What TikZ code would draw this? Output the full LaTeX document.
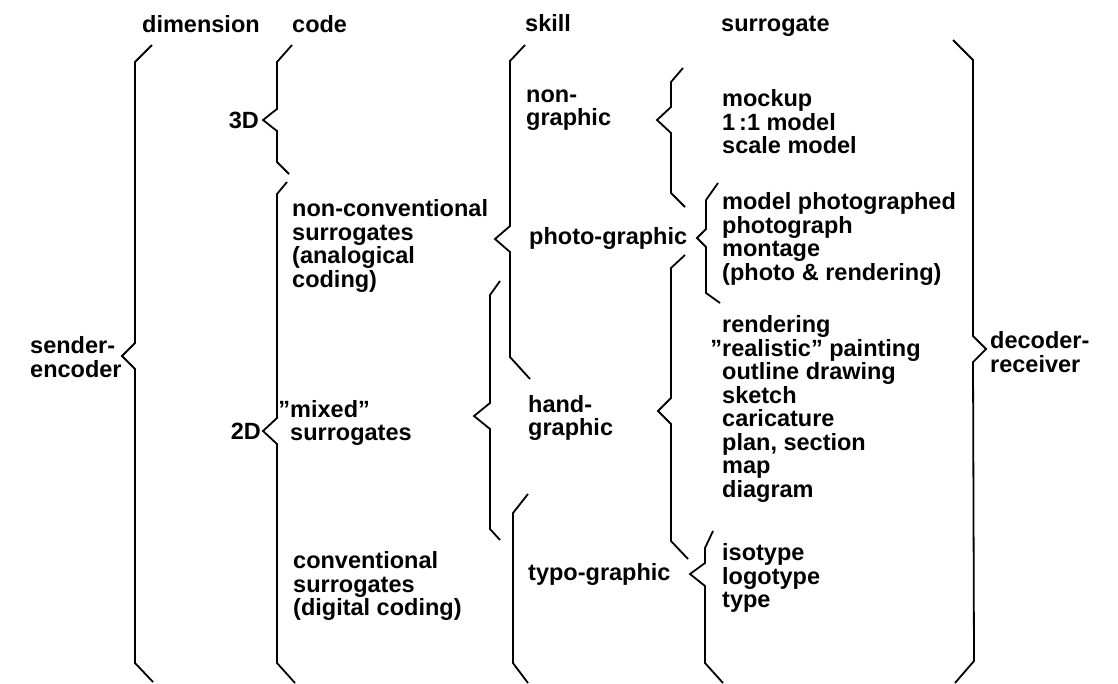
\documentclass[tikz,border=0pt]{standalone}
\usepackage{fontspec}
\setmainfont{Liberation Sans}

\tikzset{
  lbl/.style={font=\bfseries\fontsize{23.5}{23.5}\selectfont, inner sep=0pt, anchor=west, align=left},
  brk/.style={line width=1.8pt, line join=miter}
}

\begin{document}
\begin{tikzpicture}[x=1pt,y=-1pt]
          \useasboundingbox (0,0) rectangle (1118,683);
          %% headings
          \node[lbl,anchor=base west] (dim)  at (142,32) {dimension};
          \node[lbl,anchor=base west] (code) at (292,32) {code};
          \node[lbl,anchor=base west] (skl)  at (525,31) {skill};
          \node[lbl,anchor=base west] (sur)  at (721,31) {surrogate};
          %% left and right ends
          \node[lbl] (send) at (30,357)  {sender-\\encoder};
          \node[lbl] (dec)  at (990,352) {decoder-\\receiver};
          %% dimension
          \node[lbl,anchor=east] (thd) at (259,120) {3D};
          \node[lbl,anchor=east] (twd) at (261,431) {2D};
          %% code
          \node[lbl] (ncon) at (292,246) {non-conventional\\surrogates\\(analogical\\coding)};
          \node[lbl] (mix)  at (290,423) {\llap{''}mixed''\\surrogates};
          \node[lbl] (conv) at (293,586) {conventional\\surrogates\\(digital coding)};
          %% skill
          \node[lbl] (ngr)  at (526,110) {non-\\graphic};
          \node[lbl] (pgr)  at (529,238) {photo-graphic};
          \node[lbl] (hgr)  at (528,418) {hand-\\graphic};
          \node[lbl] (tgr)  at (528,574) {typo-graphic};
          %% surrogate
          \node[lbl] (mods) at (722,122) {mockup\\1\,:1 model\\scale model};
          \node[lbl] (phts) at (722,239) {model photographed\\photograph\\montage\\(photo \& rendering)};
          \node[lbl] (hnds) at (722,409) {rendering\\\llap{''}realistic'' painting\\outline drawing\\sketch\\caricature\\plan, section\\map\\diagram};
          \node[lbl] (typs) at (722,578) {isotype\\logotype\\type};
          %% braces
          \draw[brk] (152,45) -- (135,62) -- (135,343) -- (122,356) -- (135,369) -- (135,663) -- (153,682);   % sender-encoder
          \draw[brk] (292,45) -- (277,62) -- (277,109) -- (263,120) -- (277,131) -- (277,162) -- (289,174);   % 3D
          \draw[brk] (287,182) -- (277,194) -- (277,418) -- (263,431) -- (277,444) -- (277,663) -- (295,683); % 2D
          \draw[brk] (525,45) -- (510,61) -- (510,226) -- (495,239) -- (510,252) -- (510,357) -- (530,379);   % non-conventional
          \draw[brk] (500,281) -- (490,295) -- (490,403) -- (474,416) -- (490,429) -- (490,529) -- (500,540); % mixed
          \draw[brk] (528,494) -- (513,513) -- (513,663) -- (528,683);                                         % conventional
          \draw[brk] (683,68) -- (671,82) -- (671,107) -- (657,120) -- (671,133) -- (671,193) -- (685,207);   % non-graphic
          \draw[brk] (718,183) -- (706,200) -- (706,229) -- (697,238) -- (706,247) -- (706,293) -- (720,303); % photo-graphic
          \draw[brk] (685,255) -- (671,268) -- (671,398) -- (658,411) -- (671,424) -- (671,541) -- (688,559); % hand-graphic
          \draw[brk] (713,531) -- (705,548) -- (705,563) -- (690,574) -- (705,586) -- (705,663) -- (723,683); % typo-graphic
          \draw[brk] (953,40) -- (973,60) -- (973,336) -- (986,349) -- (973,362) -- (974,661) -- (955,683);   % decoder-receiver
        \end{tikzpicture}
\end{document}
